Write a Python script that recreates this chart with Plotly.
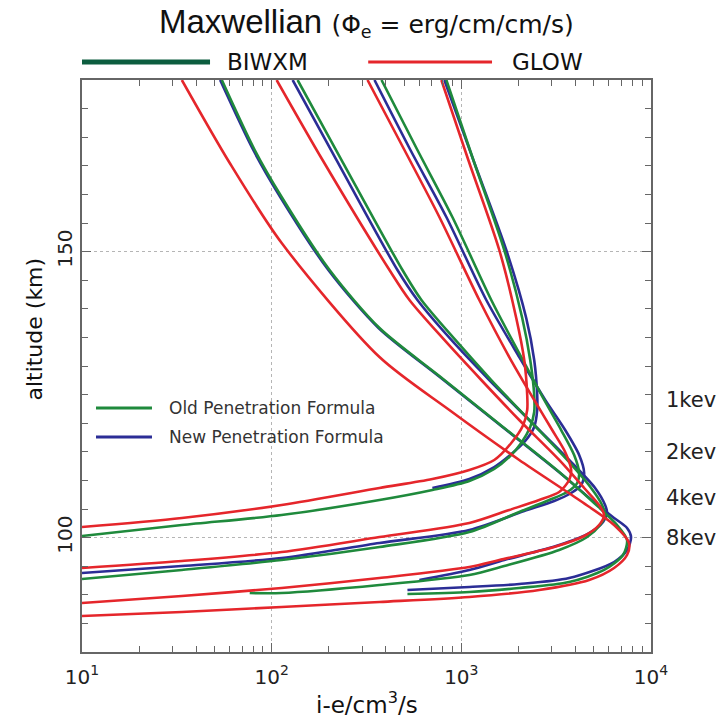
import plotly.graph_objects as go

# ---------------- data (ionization rate i-e/cm3/s vs altitude km) ----------------
# 8 keV
alt_8k_glow = [180, 165.49, 151.50, 131.57, 122.31, 113.57, 106.57, 102.20, 99.06, 96.96, 94.69, 92.59, 90.84, 89.62, 88.74, 87.87, 86.99, 86.29]
val_8k_glow = [33.6, 60.1, 112.9, 370.2, 864.6, 2019.7, 4180.1, 6387.6, 7659.6, 7475.7, 6387.6, 4719.4, 2573.5, 1102.0, 370.2, 112.9, 33.6, 10]
alt_8k_old = [180, 167.76, 159.55, 146.78, 136.64, 128.25, 119.86, 111.47, 106.05, 102.20, 99.58, 96.96, 94.34, 92.24, 91.19, 90.49, 90.14]
val_8k_old = [54.6, 81.4, 112.9, 202.0, 370.2, 765.8, 1584.9, 3280, 5011.9, 6623.5, 7475.7, 7121, 5657.2, 3702.6, 2019.7, 1102, 519.8]
alt_8k_new = [180, 167.76, 159.55, 146.78, 136.64, 128.25, 119.86, 111.47, 106.22, 103.43, 101.68, 100.10, 97.83, 95.73, 92.94, 91.89, 91.36, 90.84]
val_8k_new = [53.5, 80.0, 111.0, 199.0, 366.0, 758.0, 1575.0, 3270, 5011.9, 6387.6, 7475.7, 7848.2, 7475.7, 6387.6, 3702.6, 2019.7, 1102, 519.8]

# 4 keV
alt_4k_glow = [180, 166.01, 146.78, 141.54, 134.55, 127.55, 120.56, 113.57, 108.67, 105.70, 103.95, 102.20, 100.28, 98.36, 96.08, 94.86, 92.94, 91.19, 89.79, 88.57]
val_4k_glow = [106.2, 185.5, 417.9, 532.5, 813.6, 1274.0, 2019.7, 3280, 4442.1, 5324.4, 5657.2, 5324.4, 4442.1, 3087.5, 1584.9, 1102, 370.2, 112.9, 33.6, 10]
alt_4k_old = [180, 166.01, 146.78, 141.54, 134.55, 127.55, 120.56, 113.57, 108.67, 105.70, 103.95, 102.20, 100.10, 97.83, 95.03, 93.47, 91.71, 90.31, 90.31]
val_4k_old = [137.0, 233.6, 489.3, 616.0, 929.9, 1438.2, 2279.5, 3613.8, 4833.5, 5522.7, 5726.3, 5389.9, 4606.6, 3280, 1684.0, 1102, 370.2, 112.9, 76.6]
alt_4k_new = [180, 166.01, 146.78, 141.54, 134.55, 127.55, 120.56, 113.57, 108.67, 105.70, 104.30, 102.73, 100.80, 98.71, 96.08, 94.34, 92.59]
val_4k_new = [129.0, 219.8, 460.4, 586.8, 886.0, 1403.6, 2279.5, 3702.6, 5072.4, 5726.3, 5866.0, 5590.4, 4719.4, 3280, 1684.0, 1102, 601.0]

# 2 keV
alt_2k_glow = [180, 167.76, 156.05, 141.54, 131.57, 124.06, 118.81, 114.97, 111.82, 110.07, 107.97, 106.57, 104.83, 102.55, 100.10, 97.48, 95.91, 94.69]
val_2k_glow = [320.1, 501.2, 765.8, 1243.4, 1789.1, 2422.0, 3012.9, 3527.2, 3793.5, 3702.6, 3280, 2573.5, 1789.1, 1102, 370.2, 112.9, 33.6, 10]
alt_2k_old = [180, 167.76, 156.05, 141.54, 131.57, 124.06, 118.81, 114.44, 111.29, 109.54, 107.97, 106.57, 104.48, 100.98, 98.36, 96.08, 94.34, 92.76]
val_2k_old = [379.3, 586.8, 896.8, 1438.2, 2069.2, 2734.9, 3360.4, 3933.7, 4180.1, 4079.8, 3613.8, 2906.3, 2019.7, 1102, 370.2, 112.9, 33.6, 10]
alt_2k_new = [180, 167.76, 156.05, 141.54, 131.57, 124.06, 118.81, 114.44, 111.29, 109.20, 107.80, 106.40, 104.65, 101.33, 99.06, 96.43, 95.03, 93.81]
val_2k_new = [348.4, 539.0, 833.7, 1353.5, 2019.7, 2768.6, 3527.2, 4180.1, 4442.1, 4282.8, 3793.5, 3087.5, 2145.6, 1102, 370.2, 112.9, 33.6, 10]

# 1 keV
alt_1k_glow = [180, 166.01, 150.28, 138.39, 131.05, 124.93, 122.31, 119.69, 116.54, 113.57, 111.82, 110.24, 108.67, 105.70, 103.43, 101.85]
val_1k_glow = [784.6, 1088.6, 1584.9, 1947.6, 2145.6, 2225.0, 2225.0, 2119.7, 1833.2, 1491.5, 1102, 703.8, 370.2, 112.9, 33.6, 10]
alt_1k_old = [180, 166.01, 150.28, 138.39, 131.05, 124.93, 121.96, 119.34, 116.54, 114.09, 111.99, 109.89, 108.32, 106.57, 103.95, 102.20, 100.28]
val_1k_old = [833.7, 1156.9, 1684.0, 2094.5, 2307.5, 2422.0, 2422.0, 2307.5, 2069.2, 1789.1, 1491.5, 1102, 703.8, 370.2, 112.9, 33.6, 10]
alt_1k_new = [180, 166.01, 150.28, 138.39, 131.05, 124.93, 122.31, 119.34, 116.89, 114.44, 112.34, 110.24, 108.67]
val_1k_new = [813.6, 1156.9, 1725.3, 2198.1, 2422.0, 2511.9, 2511.9, 2422.0, 2171.5, 1811.0, 1491.5, 1102, 703.8]

energy_labels = ["1kev", "2kev", "4kev", "8kev"]
energy_label_alt = [124.1, 115.0, 106.9, 99.9]

x_tickvals = [10, 100, 1000, 10000]
x_ticktext = ["10<sup>1</sup>", "10<sup>2</sup>", "10<sup>3</sup>", "10<sup>4</sup>"]
x_minor = [m * d for d in (10, 100, 1000) for m in range(2, 10)]
y_tickvals = [100, 150]
y_minor = [a for a in range(85, 180, 5)]

RED = "#e5262b"
GREEN = "#1f8a3c"
BLUE = "#2b2d96"
DKGREEN = "#0c5d3f"
FONT = "Liberation Sans, Arial, Helvetica, sans-serif"
WFONT = "DejaVu Sans, Verdana, sans-serif"

fig = go.Figure()


def add(vals, alts, color, width=2.6):
    fig.add_trace(go.Scatter(
        x=vals, y=alts, mode="lines",
        line=dict(color=color, width=width, shape="spline", smoothing=0.8),
        showlegend=False, hoverinfo="skip"))


for v, a in [(val_8k_new, alt_8k_new), (val_4k_new, alt_4k_new),
             (val_2k_new, alt_2k_new), (val_1k_new, alt_1k_new)]:
    add(v, a, BLUE)
for v, a in [(val_8k_old, alt_8k_old), (val_4k_old, alt_4k_old),
             (val_2k_old, alt_2k_old), (val_1k_old, alt_1k_old)]:
    add(v, a, GREEN)
for v, a in [(val_8k_glow, alt_8k_glow), (val_4k_glow, alt_4k_glow),
             (val_2k_glow, alt_2k_glow), (val_1k_glow, alt_1k_glow)]:
    add(v, a, RED)

AX = "#666666"
fig.update_xaxes(
    type="log", range=[1, 4],
    tickmode="array", tickvals=x_tickvals, ticktext=x_ticktext,
    ticks="inside", ticklen=9, tickwidth=1, tickcolor=AX,
    minor=dict(tickmode="array", tickvals=x_minor, ticks="inside", ticklen=6,
               tickwidth=1, tickcolor=AX, showgrid=False),
    showline=True, linecolor=AX, linewidth=1.5, mirror="ticks",
    showgrid=True, gridcolor="#b5b5b5", griddash="dot", gridwidth=1,
    tickfont=dict(family=WFONT, size=20, color="#222"),
    ticklabelstandoff=6,
    zeroline=False,
)
fig.update_yaxes(
    range=[80, 180],
    tickmode="array", tickvals=y_tickvals, tickangle=-90,
    ticks="inside", ticklen=9, tickwidth=1, tickcolor=AX,
    minor=dict(tickmode="array", tickvals=y_minor, ticks="inside", ticklen=6,
               tickwidth=1, tickcolor=AX, showgrid=False),
    showline=True, linecolor=AX, linewidth=1.5, mirror="ticks",
    showgrid=True, gridcolor="#b5b5b5", griddash="dot", gridwidth=1,
    tickfont=dict(family=WFONT, size=20, color="#222"),
    zeroline=False,
)

ann = []
# Title
ann.append(dict(xref="paper", yref="paper", x=0.5, y=1.101, xanchor="center", yanchor="middle",
                text="Maxwellian <span style='font-size:25px;font-family:DejaVu Sans'>(Φ<sub>e</sub> = erg/cm/cm/s)</span>",
                showarrow=False, font=dict(family=FONT, size=33, color="#111")))
# Top legend labels
ann.append(dict(xref="paper", yref="paper", x=0.251, y=1.0315, xanchor="left", yanchor="middle",
                text="BIWXM", showarrow=False, font=dict(family=WFONT, size=23, color="#111")))
ann.append(dict(xref="paper", yref="paper", x=0.752, y=1.0315, xanchor="left", yanchor="middle",
                text="GLOW", showarrow=False, font=dict(family=WFONT, size=23, color="#111")))
# Inner legend labels
ann.append(dict(xref="paper", yref="paper", x=0.149, y=0.4266, xanchor="left", yanchor="middle",
                text="Old Penetration Formula", showarrow=False, font=dict(family=WFONT, size=17, color="#333")))
ann.append(dict(xref="paper", yref="paper", x=0.149, y=0.3759, xanchor="left", yanchor="middle",
                text="New Penetration Formula", showarrow=False, font=dict(family=WFONT, size=17, color="#333")))
# Energy labels on the right
for lab, a in zip(energy_labels, energy_label_alt):
    ann.append(dict(xref="paper", yref="y", x=1.071, y=a, xanchor="center", yanchor="middle",
                    text=lab, showarrow=False, font=dict(family=WFONT, size=21, color="#222")))
# axis titles
ann.append(dict(xref="paper", yref="paper", x=0.5, y=-0.089, xanchor="center", yanchor="middle",
                text="i-e/cm<sup>3</sup>/s", showarrow=False, font=dict(family=WFONT, size=23, color="#111")))
ann.append(dict(xref="paper", yref="paper", x=-0.083, y=0.565, xanchor="center", yanchor="middle",
                text="altitude (km)", textangle=-90, showarrow=False,
                font=dict(family=WFONT, size=22, color="#111")))

shapes = [
    dict(type="line", xref="paper", yref="paper", x0=0.0, x1=0.225, y0=1.0315, y1=1.0315,
         line=dict(color=DKGREEN, width=5)),
    dict(type="line", xref="paper", yref="paper", x0=0.503, x1=0.7206, y0=1.0315, y1=1.0315,
         line=dict(color=RED, width=3)),
    dict(type="line", xref="paper", yref="paper", x0=0.0246, x1=0.123, y0=0.4266, y1=0.4266,
         line=dict(color=GREEN, width=3)),
    dict(type="line", xref="paper", yref="paper", x0=0.0246, x1=0.123, y0=0.3759, y1=0.3759,
         line=dict(color=BLUE, width=3)),
]

fig.update_layout(
    width=722, height=722,
    margin=dict(l=82, r=71, t=80, b=70),
    paper_bgcolor="white", plot_bgcolor="white",
    annotations=ann, shapes=shapes,
    font=dict(family=FONT),
    showlegend=False,
)

fig.write_html("out.html")
